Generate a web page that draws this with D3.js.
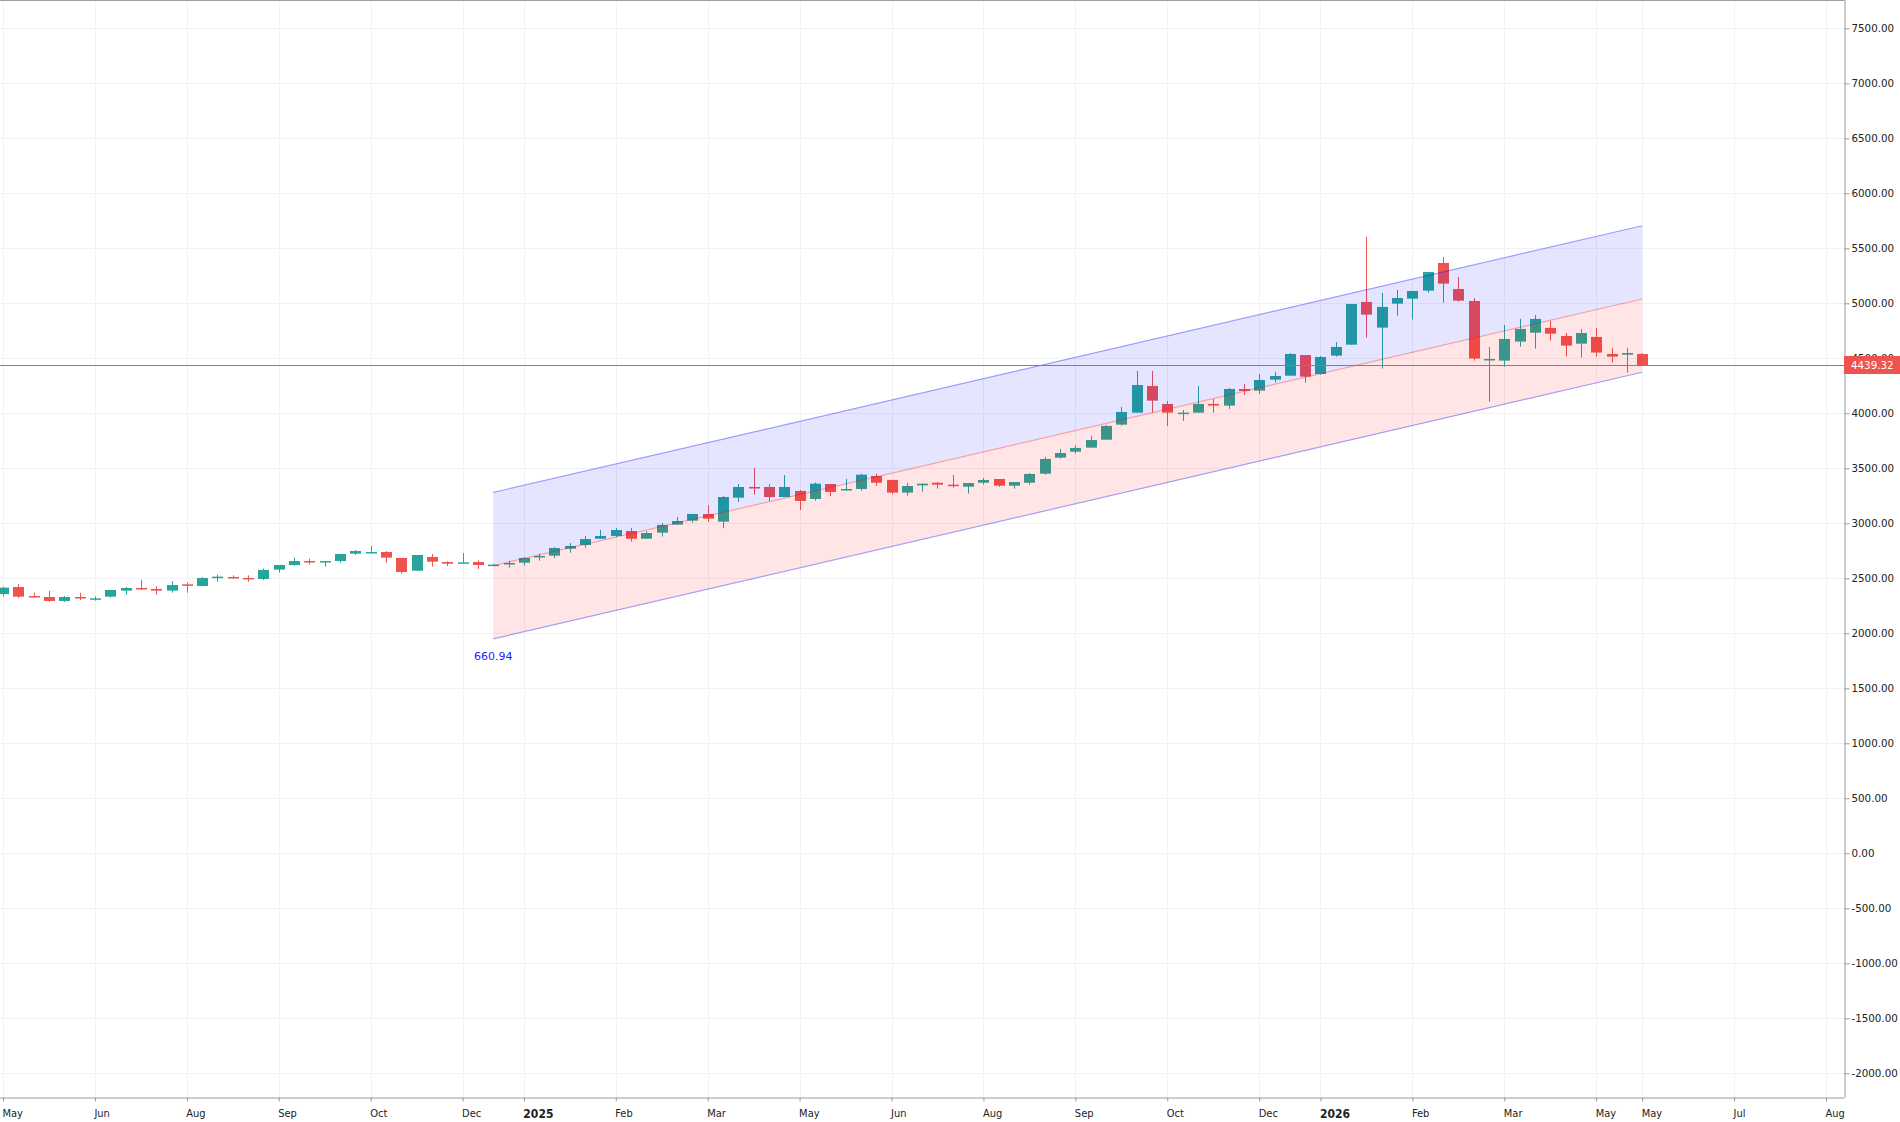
<!DOCTYPE html>
<html>
<head>
<meta charset="utf-8">
<script src="https://cdn.jsdelivr.net/npm/d3@7"></script>
<style>
    html, body { margin: 0; padding: 0; background: #ffffff; }
    svg { display: block; }
</style>
</head>
<body>
<div id="chart"></div>
<script>
// weekly candles, one per bar index
const opens = [2357, 2421, 2339, 2330, 2294, 2330, 2312, 2333, 2388, 2412, 2403, 2388, 2445, 2430, 2509, 2512, 2503, 2494, 2579, 2621,
    2657, 2651, 2657, 2724, 2733, 2739, 2685, 2569, 2694, 2648, 2639, 2648, 2618, 2627, 2642, 2697, 2706, 2769, 2803, 2860,
    2885, 2930, 2860, 2915, 2988, 3024, 3085, 3015, 3233, 3330, 3330, 3239, 3294, 3221, 3357, 3306, 3312, 3430, 3394, 3279,
    3345, 3369, 3351, 3333, 3369, 3403, 3342, 3369, 3451, 3597, 3651, 3688, 3760, 3897, 4006, 4248, 4085, 4000, 4006, 4085,
    4070, 4221, 4206, 4306, 4342, 4530, 4357, 4524, 4624, 5012, 4779, 4997, 5042, 5115, 5367, 5130, 5021, 4488, 4479, 4652,
    4733, 4776, 4703, 4633, 4694, 4539, 4533, 4539];
const highs = [2424, 2448, 2369, 2385, 2339, 2369, 2336, 2394, 2421, 2485, 2427, 2475, 2460, 2512, 2533, 2527, 2527, 2588, 2621, 2688,
    2678, 2657, 2721, 2757, 2794, 2748, 2685, 2712, 2721, 2654, 2730, 2663, 2630, 2660, 2694, 2724, 2785, 2821, 2885, 2939,
    2957, 2957, 2930, 3003, 3057, 3085, 3166, 3248, 3357, 3503, 3357, 3439, 3303, 3372, 3357, 3403, 3451, 3451, 3394, 3366,
    3366, 3375, 3439, 3366, 3412, 3403, 3375, 3457, 3603, 3675, 3709, 3794, 3894, 4057, 4385, 4385, 4112, 4030, 4248, 4130,
    4230, 4266, 4357, 4375, 4548, 4530, 4521, 4648, 4994, 5603, 5094, 5121, 5112, 5285, 5421, 5239, 5048, 4603, 4803, 4858,
    4894, 4839, 4730, 4767, 4776, 4594, 4594, 4548];
const lows = [2333, 2321, 2324, 2285, 2285, 2303, 2297, 2324, 2351, 2394, 2351, 2369, 2369, 2427, 2469, 2497, 2469, 2485, 2551, 2615,
    2624, 2606, 2642, 2712, 2727, 2642, 2542, 2569, 2606, 2612, 2633, 2585, 2612, 2597, 2615, 2660, 2685, 2733, 2778, 2857,
    2876, 2833, 2860, 2879, 2985, 3006, 3012, 2957, 3194, 3260, 3203, 3239, 3121, 3206, 3248, 3297, 3297, 3339, 3263, 3251,
    3288, 3315, 3324, 3270, 3351, 3333, 3315, 3351, 3442, 3588, 3633, 3688, 3760, 3888, 4006, 4006, 3885, 3930, 4006, 4006,
    4039, 4166, 4176, 4279, 4342, 4279, 4351, 4515, 4624, 4688, 4406, 4888, 4852, 5097, 5006, 5015, 4479, 4106, 4424, 4606,
    4588, 4661, 4515, 4506, 4515, 4461, 4370, 4439];
const closes = [2415, 2333, 2330, 2294, 2330, 2321, 2318, 2394, 2412, 2403, 2388, 2439, 2436, 2503, 2515, 2503, 2497, 2576, 2621, 2657,
    2648, 2657, 2721, 2748, 2739, 2688, 2557, 2712, 2651, 2633, 2645, 2621, 2624, 2639, 2685, 2703, 2775, 2794, 2857, 2885,
    2939, 2860, 2912, 2985, 3021, 3085, 3042, 3239, 3330, 3324, 3239, 3330, 3203, 3360, 3285, 3312, 3442, 3369, 3279, 3339,
    3360, 3351, 3342, 3366, 3394, 3342, 3375, 3448, 3585, 3639, 3685, 3757, 3885, 4012, 4257, 4115, 4006, 4006, 4085, 4070,
    4221, 4203, 4303, 4339, 4539, 4333, 4512, 4603, 4994, 4897, 4967, 5048, 5112, 5285, 5179, 5024, 4497, 4494, 4676, 4767,
    4858, 4724, 4615, 4730, 4552, 4515, 4548, 4439.32];

// time axis: bar index of each tick and its label
const tickIndex = [0, 6, 12, 18, 24, 30, 34, 40, 46, 52, 58, 64, 70, 76, 82, 86, 92, 98, 104, 107, 113, 119];
const tickLabels = ["May", "Jun", "Aug", "Sep", "Oct", "Dec", "2025", "Feb", "Mar", "May", "Jun", "Aug",
    "Sep", "Oct", "Dec", "2026", "Feb", "Mar", "May", "May", "Jul", "Aug"];

const priceTicks = [-2000, -1500, -1000, -500, 0, 500, 1000, 1500, 2000, 2500, 3000, 3500, 4000, 4500, 5000, 5500, 6000, 6500, 7000, 7500];

// parallel channel: start/end bar, mid line value, half width
const channelIdx = [32, 107];
const channelMid = [2615, 5039];
const channelHalf = 666;
const channelLabel = "660.94";

const lastPrice = 4439.32;

// plain hyphen for negatives, like the original axis
const priceFormat = d => d3.format(".2f")(d).replace("\u2212", "-");

function drawChart() {
    const width = 1900;
    const height = 1122;
    const plotRight = 1844.5;
    const plotBottom = 1097.5;

    const x = d3.scaleLinear().domain([0, 119]).range([3, 1826]);
    const y = d3.scaleLinear().domain([-2000, 7500]).range([1073.3, 28.3]);

    const svg = d3.select("#chart")
        .append("svg")
        .attr("width", width)
        .attr("height", height)
        .style("font-family", "'DejaVu Sans', sans-serif");

    svg.append("defs").append("clipPath")
        .attr("id", "plot-clip")
        .append("rect")
        .attr("x", 0).attr("y", 0)
        .attr("width", plotRight).attr("height", plotBottom);

    const plot = svg.append("g").attr("clip-path", "url(#plot-clip)");

    // grid
    plot.selectAll(".hgrid")
        .data(priceTicks)
        .enter().append("line")
        .attr("x1", 0).attr("x2", plotRight)
        .attr("y1", d => Math.round(y(d)) + 0.5)
        .attr("y2", d => Math.round(y(d)) + 0.5)
        .attr("stroke", "#f0f2f5");

    plot.selectAll(".vgrid")
        .data(tickIndex)
        .enter().append("line")
        .attr("x1", d => Math.round(x(d)) + 0.5)
        .attr("x2", d => Math.round(x(d)) + 0.5)
        .attr("y1", 0).attr("y2", plotBottom)
        .attr("stroke", "#f0f2f5");

    // candles
    const bars = d3.range(opens.length);
    const colorOf = i => closes[i] >= opens[i] ? "#26a69a" : "#ef5350";

    plot.selectAll(".wick")
        .data(bars)
        .enter().append("line")
        .attr("x1", i => Math.round(x(i)) + 0.5)
        .attr("x2", i => Math.round(x(i)) + 0.5)
        .attr("y1", i => y(highs[i]))
        .attr("y2", i => y(lows[i]))
        .attr("stroke", colorOf)
        .attr("stroke-width", 1);

    plot.selectAll(".body")
        .data(bars)
        .enter().append("rect")
        .attr("x", i => Math.round(x(i)) - 5)
        .attr("width", 11)
        .attr("y", i => y(Math.max(opens[i], closes[i])))
        .attr("height", i => Math.max(1.5, Math.abs(y(opens[i]) - y(closes[i]))))
        .attr("fill", colorOf);

    // channel fills sit on top of the candles
    const upper = [channelMid[0] + channelHalf, channelMid[1] + channelHalf];
    const lower = [channelMid[0] - channelHalf, channelMid[1] - channelHalf];

    const area = d3.area()
        .x(d => x(d.i))
        .y0(d => y(d.lo))
        .y1(d => y(d.hi));

    plot.append("path")
        .datum([{ i: channelIdx[0], lo: channelMid[0], hi: upper[0] }, { i: channelIdx[1], lo: channelMid[1], hi: upper[1] }])
        .attr("d", area)
        .attr("fill", "rgba(0, 0, 255, 0.1)");

    plot.append("path")
        .datum([{ i: channelIdx[0], lo: lower[0], hi: channelMid[0] }, { i: channelIdx[1], lo: lower[1], hi: channelMid[1] }])
        .attr("d", area)
        .attr("fill", "rgba(255, 0, 0, 0.1)");

    const line = d3.line().x(d => x(d[0])).y(d => y(d[1]));
    [[upper, "rgba(0, 0, 255, 0.35)"], [channelMid, "rgba(255, 0, 0, 0.3)"], [lower, "rgba(0, 0, 255, 0.35)"]]
        .forEach(([vals, color]) => {
            plot.append("path")
                .datum([[channelIdx[0], vals[0]], [channelIdx[1], vals[1]]])
                .attr("d", line)
                .attr("fill", "none")
                .attr("stroke", color)
                .attr("stroke-width", 1.2);
        });

    svg.append("text")
        .attr("x", x(channelIdx[0]))
        .attr("y", y(lower[0]) + 21)
        .attr("text-anchor", "middle")
        .style("font-size", "11px")
        .style("fill", "#1e1eff")
        .text(channelLabel);

    // last price line
    plot.append("line")
        .attr("x1", 0).attr("x2", plotRight)
        .attr("y1", Math.round(y(lastPrice)) + 0.5)
        .attr("y2", Math.round(y(lastPrice)) + 0.5)
        .attr("stroke", "#ef5350")
        .attr("stroke-width", 1);

    // frame
    svg.append("line")
        .attr("x1", 0).attr("x2", plotRight)
        .attr("y1", 0.5).attr("y2", 0.5)
        .attr("stroke", "#a0a0a0");

    // price axis
    const yAxis = svg.append("g")
        .attr("transform", `translate(${plotRight},0)`)
        .call(d3.axisRight(y)
            .tickValues(priceTicks)
            .tickSize(5)
            .tickPadding(2)
            .tickFormat(priceFormat));

    yAxis.select(".domain").attr("d", `M0.5,0V${plotBottom}`).attr("stroke", "#9a9a9a");
    yAxis.selectAll(".tick line").attr("stroke", "#9a9a9a");
    yAxis.selectAll("text")
        .style("font-family", "'DejaVu Sans', sans-serif")
        .style("font-size", "10.3px")
        .style("fill", "#222");

    // time axis
    const xAxis = svg.append("g")
        .attr("transform", `translate(0,${plotBottom})`)
        .call(d3.axisBottom(x)
            .tickValues(tickIndex)
            .tickSize(4)
            .tickFormat((d, i) => tickLabels[i]));

    xAxis.select(".domain").attr("d", `M0,0.5H${plotRight}`).attr("stroke", "#9a9a9a");
    xAxis.selectAll(".tick line").attr("stroke", "#9a9a9a");
    xAxis.selectAll("text")
        .attr("text-anchor", "start")
        .attr("dx", -1)
        .attr("y", 12)
        .style("font-family", "'DejaVu Sans Condensed', 'DejaVu Sans', sans-serif")
        .style("font-stretch", "condensed")
        .style("fill", "#222")
        .style("font-weight", (d, i) => /^\d{4}$/.test(tickLabels[i]) ? "bold" : "normal")
        .style("font-size", (d, i) => /^\d{4}$/.test(tickLabels[i]) ? "12px" : "11px");

    // last price badge
    const badge = svg.append("g")
        .attr("transform", `translate(${plotRight - 0.5},${Math.round(y(lastPrice)) - 9})`);
    badge.append("rect")
        .attr("width", width - plotRight + 0.5)
        .attr("height", 18)
        .attr("fill", "#ef5350");
    badge.append("text")
        .attr("x", 7)
        .attr("y", 9)
        .attr("dy", "0.35em")
        .style("font-size", "10.3px")
        .style("fill", "#ffffff")
        .text(priceFormat(lastPrice));
}

drawChart();
</script>
</body>
</html>
